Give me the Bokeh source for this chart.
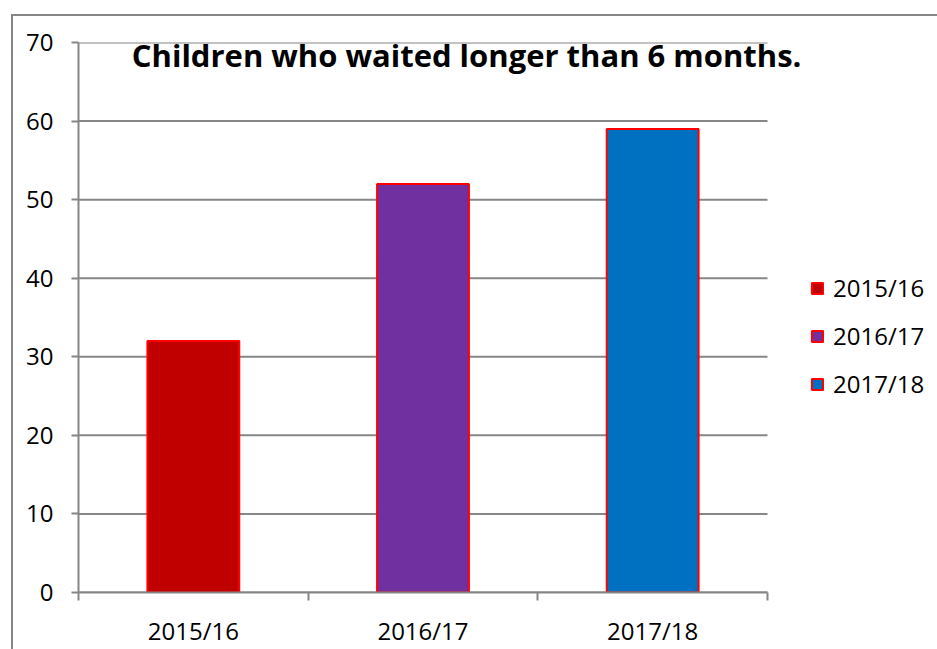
from bokeh.plotting import figure
from bokeh.models import ColumnDataSource, Range1d, FixedTicker, Label
from bokeh.embed import file_html
from bokeh.resources import INLINE

# ---- data ----
categories = ["2015/16", "2016/17", "2017/18"]
values = [32, 52, 59]
colors = ["#C00000", "#7030A0", "#0070C0"]
y_ticks = [0, 10, 20, 30, 40, 50, 60, 70]
title_text = "Children who waited longer than 6 months."

GRAY = "#868686"
FONT = "Open Sans"

n = len(categories)
xs = [i + 0.5 for i in range(n)]
src = ColumnDataSource(dict(x=xs, top=values, color=colors, label=categories))

# plot area geometry: categories occupy 689px of a wider frame
PLOT_PX = 689
FRAME_PX = 859
x_end = n * FRAME_PX / PLOT_PX

p = figure(output_backend="svg", toolbar_location=None, tools="",
           frame_width=FRAME_PX, frame_height=550,
           min_border_left=65, min_border_right=0,
           min_border_top=26, min_border_bottom=56,
           x_range=Range1d(0, x_end), y_range=Range1d(0, 70))
p.outline_line_color = None
p.background_fill_color = "white"
p.border_fill_color = "white"
p.styles = {"border-left": f"2px solid {GRAY}", "border-top": f"2px solid {GRAY}",
            "border-right": "none", "border-bottom": "none",
            "margin-left": "11px", "margin-top": "14px"}

# horizontal gridlines limited to the category area
p.segment(x0=0, x1=n, y0=y_ticks, y1=y_ticks, line_color=GRAY, line_width=2)

p.vbar(x="x", top="top", bottom=0, width=0.4, source=src,
       fill_color="color", line_color="#FF0000", line_width=2,
       legend_field="label")

# x axis
p.xaxis.bounds = (0, n)
p.xaxis.ticker = FixedTicker(ticks=xs, minor_ticks=list(range(n + 1)))
p.xaxis.major_label_overrides = {x: c for x, c in zip(xs, categories)}
p.xaxis.major_tick_out = 0
p.xaxis.major_tick_in = 0
p.xaxis.minor_tick_out = 8
p.xaxis.minor_tick_in = 0
p.xaxis.minor_tick_line_color = GRAY
p.xaxis.minor_tick_line_width = 2
p.xaxis.axis_line_color = GRAY
p.xaxis.axis_line_width = 2
p.xaxis.major_label_standoff = 13
p.xaxis.major_label_text_font = FONT
p.xaxis.major_label_text_font_size = "24px"
p.xaxis.major_label_text_color = "black"

# y axis
p.yaxis.ticker = FixedTicker(ticks=y_ticks)
p.yaxis.major_tick_out = 7
p.yaxis.major_tick_in = 0
p.yaxis.minor_tick_line_color = None
p.yaxis.major_tick_line_color = GRAY
p.yaxis.major_tick_line_width = 2
p.yaxis.axis_line_color = GRAY
p.yaxis.axis_line_width = 2
p.yaxis.major_label_standoff = 18
p.yaxis.major_label_text_font = FONT
p.yaxis.major_label_text_font_size = "24px"
p.yaxis.major_label_text_color = "black"

p.xgrid.grid_line_color = None
p.ygrid.grid_line_color = None

# title inside plot area
p.add_layout(Label(x=1.69, y=68.4, text=title_text, text_align="center",
                   text_baseline="alphabetic", text_font=FONT,
                   text_font_style="bold", text_font_size="31px",
                   text_color="black"))

# legend
leg = p.legend[0]
leg.location = (732, 192)
leg.margin = 0
leg.padding = 0
leg.border_line_color = None
leg.background_fill_alpha = 0
leg.glyph_width = 14
leg.glyph_height = 14
leg.label_height = 24
leg.spacing = 15
leg.label_standoff = 9
leg.label_text_font = FONT
leg.label_text_font_size = "24px"
leg.label_text_color = "black"

open("out.html", "w").write(file_html(p, INLINE))
